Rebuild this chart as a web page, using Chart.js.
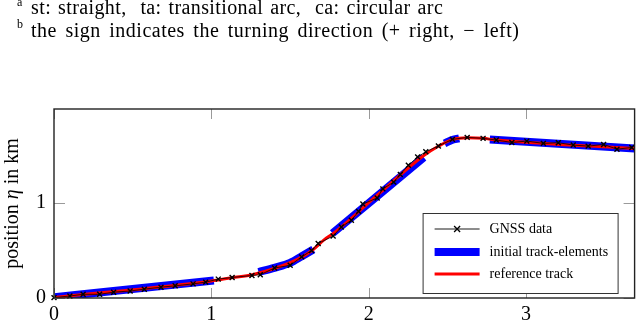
<!DOCTYPE html>
<html>
<head>
<meta charset="utf-8">
<script src="https://cdn.jsdelivr.net/npm/chart.js@4"></script>
<style>
  html, body { margin: 0; padding: 0; background: #fff; }
  #wrap { position: relative; width: 640px; height: 323px; overflow: hidden; }
  #c { position: absolute; left: 0; top: 0; }
  .note { position: absolute; left: 31px; font-family: "Liberation Serif", serif; font-size: 20px; line-height: 20px; color: #000; white-space: pre; word-spacing: 3px; letter-spacing: 0.5px; }
  .sup { position: absolute; left: 17px; font-family: "Liberation Serif", serif; font-size: 12px; line-height: 12px; color: #000; }
</style>
</head>
<body>
<div id="wrap">
  <canvas id="c" width="640" height="323"></canvas>
  <div class="sup" style="top:-4px">a</div>
  <div class="note" style="top:-3px; word-spacing: 1.5px; letter-spacing: 0.4px">st: straight,  ta: transitional arc,  ca: circular arc</div>
  <div class="sup" style="top:18px">b</div>
  <div class="note" style="top:20px">the sign indicates the turning direction (+ right, − left)</div>
</div>
<script>
// GNSS measurements (km)
const gnssX = [0, 0.101, 0.185, 0.290, 0.379, 0.484, 0.574, 0.680, 0.770, 0.884, 0.964,
  1.044, 1.132, 1.258, 1.311, 1.402, 1.501, 1.574, 1.637, 1.679, 1.774, 1.826, 1.890,
  1.936, 1.963, 2.054, 2.090, 2.159, 2.201, 2.252, 2.311, 2.363, 2.443, 2.532, 2.626,
  2.727, 2.811, 2.910, 3.005, 3.110, 3.205, 3.300, 3.395, 3.493, 3.578, 3.672];
const gnssY = [0.004, 0.021, 0.039, 0.039, 0.061, 0.074, 0.093, 0.114, 0.128, 0.149, 0.167,
  0.199, 0.216, 0.237, 0.245, 0.316, 0.344, 0.433, 0.500, 0.574, 0.652, 0.748, 0.819,
  0.912, 0.989, 1.053, 1.149, 1.220, 1.301, 1.397, 1.486, 1.539, 1.601, 1.670, 1.691,
  1.681, 1.663, 1.638, 1.652, 1.628, 1.635, 1.610, 1.599, 1.617, 1.567, 1.585];

// reference track
const refX = [0, 1.0, 1.13, 1.26, 1.41, 1.55, 1.64, 1.72, 1.775, 2.06, 2.35, 2.44, 2.53, 2.63, 2.73, 2.8, 3.69];
const refY = [0.005, 0.18, 0.214, 0.245, 0.316, 0.41, 0.50, 0.617, 0.68, 1.09, 1.50, 1.595, 1.668, 1.688, 1.681, 1.665, 1.574];

// initial track-elements (one array pair per element)
const el1X = [0, 1.016];              const el1Y = [0.008, 0.184];
const el2X = [1.30, 1.40, 1.50, 1.575, 1.648]; const el2Y = [0.272, 0.318, 0.37, 0.44, 0.51];
const el3X = [1.77, 2.35];            const el3Y = [0.682, 1.48];
const el4X = [2.482, 2.525, 2.575];   const el4Y = [1.628, 1.662, 1.681];
const el5X = [2.77, 3.69];            const el5Y = [1.670, 1.574];

const xTicks = [0, 1, 2, 3];
const yTicks = [0, 1];

function pts(xs, ys) {
  return xs.map((x, i) => ({ x: x, y: ys[i] }));
}

const elements = [[el1X, el1Y], [el2X, el2Y], [el3X, el3Y], [el4X, el4Y], [el5X, el5Y]];
let blueData = [];
elements.forEach((e, i) => {
  if (i > 0) blueData.push({ x: null, y: null });
  blueData = blueData.concat(pts(e[0], e[1]));
});

const serif = "'Liberation Serif', 'Times New Roman', serif";

const framePlugin = {
  id: "frame",
  afterDatasetsDraw(chart) {
    const ctx = chart.ctx;
    const a = chart.chartArea;
    const xs = chart.scales.x, ys = chart.scales.y;
    ctx.save();
    // inward ticks
    ctx.strokeStyle = "#9a9a9a";
    ctx.lineWidth = 1;
    xTicks.forEach(v => {
      const px = Math.round(xs.getPixelForValue(v)) + 0.5;
      ctx.beginPath();
      ctx.moveTo(px, a.bottom); ctx.lineTo(px, a.bottom - 10);
      ctx.moveTo(px, a.top); ctx.lineTo(px, a.top + 10);
      ctx.stroke();
    });
    yTicks.forEach(v => {
      const py = Math.round(ys.getPixelForValue(v)) + 0.5;
      ctx.beginPath();
      ctx.moveTo(a.left, py); ctx.lineTo(a.left + 11, py);
      ctx.moveTo(a.right, py); ctx.lineTo(a.right - 11, py);
      ctx.stroke();
    });
    // axis box
    ctx.strokeStyle = "#222";
    ctx.lineWidth = 1.4;
    ctx.strokeRect(a.left, a.top, a.right - a.left, a.bottom - a.top);

    // y axis title with italic eta
    ctx.translate(13, (a.top + a.bottom) / 2);
    ctx.rotate(-Math.PI / 2);
    ctx.fillStyle = "#000";
    ctx.textBaseline = "middle";
    const parts = [["position ", "20px " + serif], ["\u03b7", "italic 20px " + serif], [" in km", "20px " + serif]];
    let w = 0;
    parts.forEach(p => { ctx.font = p[1]; w += ctx.measureText(p[0]).width; });
    let x = -w / 2;
    parts.forEach(p => { ctx.font = p[1]; ctx.fillText(p[0], x, 0); x += ctx.measureText(p[0]).width; });
    ctx.restore();

    // legend box
    ctx.save();
    const bx = a.right - 212, by = a.bottom - 85, bw = 195, bh = 80;
    ctx.fillStyle = "#fff";
    ctx.fillRect(bx, by, bw, bh);
    ctx.strokeStyle = "#333";
    ctx.lineWidth = 1;
    ctx.strokeRect(bx + 0.5, by + 0.5, bw, bh);
    const lx0 = bx + 12, lx1 = bx + 57, tx = bx + 67;
    const rows = [by + 16, by + 39, by + 61];
    // GNSS
    ctx.strokeStyle = "#000";
    ctx.lineWidth = 0.9;
    ctx.beginPath(); ctx.moveTo(lx0, rows[0]); ctx.lineTo(lx1, rows[0]); ctx.stroke();
    const mx = (lx0 + lx1) / 2;
    ctx.lineWidth = 1.3;
    ctx.beginPath();
    ctx.moveTo(mx - 3, rows[0] - 3); ctx.lineTo(mx + 3, rows[0] + 3);
    ctx.moveTo(mx - 3, rows[0] + 3); ctx.lineTo(mx + 3, rows[0] - 3);
    ctx.stroke();
    // initial track-elements
    ctx.fillStyle = "#0000ff";
    ctx.fillRect(lx0, rows[1] - 4, lx1 - lx0, 8);
    // reference track
    ctx.strokeStyle = "#ff0000";
    ctx.lineWidth = 3;
    ctx.beginPath(); ctx.moveTo(lx0, rows[2]); ctx.lineTo(lx1, rows[2]); ctx.stroke();
    ctx.fillStyle = "#000";
    ctx.font = "14px " + serif;
    ctx.textBaseline = "middle";
    const labels = chart.data.datasets.map(d => d.label);
    ctx.fillText(labels[0], tx, rows[0]);
    ctx.fillText(labels[2], tx, rows[1]);
    ctx.fillText(labels[1], tx, rows[2]);
    ctx.restore();
  }
};

new Chart(document.getElementById("c"), {
  type: "scatter",
  data: {
    datasets: [
      {
        label: "GNSS data",
        data: pts(gnssX, gnssY),
        showLine: true,
        borderColor: "#000",
        borderWidth: 0.8,
        pointStyle: "crossRot",
        pointRadius: 3.5,
        pointBorderWidth: 1.4,
        pointBorderColor: "#000",
        clip: 6
      },
      {
        label: "reference track",
        data: pts(refX, refY),
        showLine: true,
        borderColor: "#ff0000",
        borderWidth: 3,
        pointRadius: 0,
        cubicInterpolationMode: "monotone"
      },
      {
        label: "initial track-elements",
        data: blueData,
        showLine: true,
        spanGaps: false,
        borderColor: "#0000ff",
        borderWidth: 8,
        borderCapStyle: "butt",
        pointRadius: 0,
        cubicInterpolationMode: "monotone"
      }
    ]
  },
  options: {
    responsive: false,
    animation: false,
    events: [],
    layout: { padding: { top: 109, right: 1, left: 0, bottom: 0 } },
    plugins: { legend: { display: false }, tooltip: { enabled: false } },
    scales: {
      x: {
        type: "linear",
        min: 0,
        max: 3.69,
        grid: { display: false, drawTicks: false },
        border: { display: false },
        afterFit: s => { s.height = 25; },
        ticks: {
          stepSize: 1,
          includeBounds: false,
          padding: 5,
          color: "#000",
          font: { family: serif, size: 20 }
        }
      },
      y: {
        type: "linear",
        min: 0,
        max: 1.99,
        grid: { display: false, drawTicks: false },
        border: { display: false },
        afterFit: s => { s.width = 54; },
        ticks: {
          stepSize: 1,
          includeBounds: false,
          padding: 8,
          color: "#000",
          font: { family: serif, size: 20 }
        }
      }
    }
  },
  plugins: [framePlugin]
});
</script>
</body>
</html>
